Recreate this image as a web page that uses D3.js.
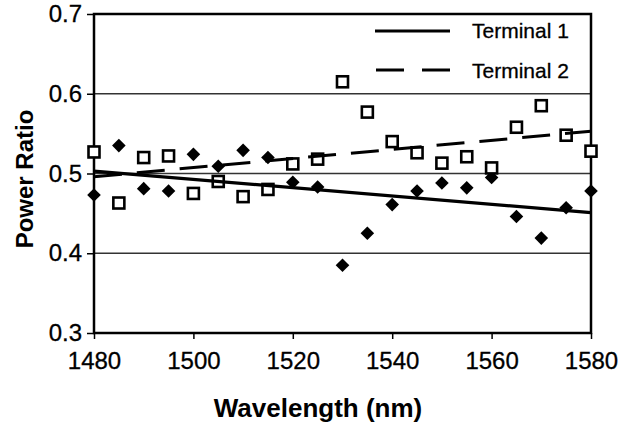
<!DOCTYPE html>
<html lang="en">
    <head>
        <meta charset="utf-8">
        <title>Power Ratio vs Wavelength</title>
        <script src="https://d3js.org/d3.v7.min.js"></script>
        <style type="text/css">
            html, body {
                margin: 0;
                padding: 0;
                background-color: white;
            }
            .tick text {
                font-family: "Liberation Sans", Arial, sans-serif;
                font-size: 24px;
                stroke: black;
                stroke-width: 0.3px;
            }
            .title {
                font-family: "Liberation Sans", Arial, sans-serif;
                font-weight: bold;
            }
            .legend {
                font-family: "Liberation Sans", Arial, sans-serif;
                font-size: 21px;
                stroke: black;
                stroke-width: 0.3px;
            }
        </style>
    </head>
    <body>
        <script type="text/javascript">
            // wavelengths (nm)
            const wavelengths = [1480, 1485, 1490, 1495, 1500, 1505, 1510, 1515, 1520, 1525, 1530,
                                 1535, 1540, 1545, 1550, 1555, 1560, 1565, 1570, 1575, 1580];
            // Terminal 1 (filled diamonds)
            const terminal1 = [0.473, 0.535, 0.481, 0.478, 0.524, 0.509, 0.529, 0.520, 0.489, 0.483, 0.385,
                               0.425, 0.461, 0.478, 0.488, 0.482, 0.495, 0.446, 0.419, 0.457, 0.478];
            // Terminal 2 (open squares)
            const terminal2 = [0.527, 0.463, 0.520, 0.522, 0.475, 0.490, 0.471, 0.480, 0.512, 0.518, 0.615,
                               0.577, 0.540, 0.526, 0.513, 0.521, 0.507, 0.558, 0.585, 0.548, 0.528];
            // linear trend lines, value at 1480 and at 1580
            const trendX = [1480, 1580];
            const trend1 = [0.503, 0.451];
            const trend2 = [0.496, 0.553];
            const xTicks = [1480, 1500, 1520, 1540, 1560, 1580];
            const yTicks = [0.3, 0.4, 0.5, 0.6, 0.7];

            const w = 633, h = 423;
            const x = d3.scaleLinear().domain([1480, 1580]).range([94, 591]);
            const y = d3.scaleLinear().domain([0.3, 0.7]).range([333, 14]);

            const svg = d3.select("body").append("svg")
                          .attr("width", w)
                          .attr("height", h);

            // gridlines
            svg.append("g")
               .selectAll("line")
               .data([0.4, 0.5, 0.6])
               .enter()
               .append("line")
               .attr("x1", x(1480))
               .attr("x2", x(1580))
               .attr("y1", d => y(d))
               .attr("y2", d => y(d))
               .attr("stroke", "#333")
               .attr("stroke-width", 1.3);

            // axes
            const xAxis = svg.append("g")
                             .attr("transform", "translate(0," + y(0.3) + ")")
                             .call(d3.axisBottom(x).tickValues(xTicks).tickFormat(d3.format("d"))
                                     .tickSize(6).tickPadding(13));
            const yAxis = svg.append("g")
                             .attr("transform", "translate(" + x(1480) + ",0)")
                             .call(d3.axisLeft(y).tickValues(yTicks).tickFormat(d3.format(".1f"))
                                     .tickSize(7).tickPadding(5));
            [xAxis, yAxis].forEach(a => {
                a.select(".domain").remove();
                a.selectAll(".tick line").attr("stroke", "black").attr("stroke-width", 1.5);
                a.selectAll(".tick text").attr("fill", "black");
            });

            // frame
            svg.append("rect")
               .attr("x", x(1480))
               .attr("y", y(0.7))
               .attr("width", x(1580) - x(1480))
               .attr("height", y(0.3) - y(0.7))
               .attr("fill", "none")
               .attr("stroke", "black")
               .attr("stroke-width", 2.5);

            const pts1 = wavelengths.map((d, i) => ({wl: d, v: terminal1[i]}));
            const pts2 = wavelengths.map((d, i) => ({wl: d, v: terminal2[i]}));

            // diamonds
            svg.append("g")
               .selectAll("path")
               .data(pts1)
               .enter()
               .append("path")
               .attr("d", "M0,-6.8L6.8,0L0,6.8L-6.8,0Z")
               .attr("transform", d => "translate(" + x(d.wl) + "," + y(d.v) + ")")
               .attr("fill", "black");

            // squares
            svg.append("g")
               .selectAll("rect")
               .data(pts2)
               .enter()
               .append("rect")
               .attr("x", d => x(d.wl) - 5.5)
               .attr("y", d => y(d.v) - 5.5)
               .attr("width", 11)
               .attr("height", 11)
               .attr("fill", "white")
               .attr("stroke", "black")
               .attr("stroke-width", 2.6);

            // trend lines
            const line = d3.line().x(d => x(d[0])).y(d => y(d[1]));
            svg.append("path")
               .attr("d", line(trendX.map((d, i) => [d, trend1[i]])))
               .attr("fill", "none")
               .attr("stroke", "black")
               .attr("stroke-width", 3.2);
            svg.append("path")
               .attr("d", line(trendX.map((d, i) => [d, trend2[i]])))
               .attr("fill", "none")
               .attr("stroke", "black")
               .attr("stroke-width", 3)
               .attr("stroke-dasharray", "28,15");

            // legend
            const legend = svg.append("g");
            legend.append("line")
                  .attr("x1", 375).attr("x2", 450)
                  .attr("y1", 31).attr("y2", 31)
                  .attr("stroke", "black").attr("stroke-width", 3.2);
            legend.append("line")
                  .attr("x1", 376).attr("x2", 452)
                  .attr("y1", 70).attr("y2", 70)
                  .attr("stroke", "black").attr("stroke-width", 3)
                  .attr("stroke-dasharray", "28,18");
            legend.append("text").attr("class", "legend")
                  .attr("x", 472).attr("y", 38).text("Terminal 1");
            legend.append("text").attr("class", "legend")
                  .attr("x", 472).attr("y", 78).text("Terminal 2");

            // axis titles
            svg.append("text")
               .attr("class", "title")
               .attr("x", 318)
               .attr("y", 417)
               .attr("text-anchor", "middle")
               .style("font-size", "26px")
               .text("Wavelength (nm)");
            svg.append("text")
               .attr("class", "title")
               .attr("transform", "translate(33,179) rotate(-90)")
               .attr("text-anchor", "middle")
               .style("font-size", "24px")
               .text("Power Ratio");
        </script>
    </body>
</html>
